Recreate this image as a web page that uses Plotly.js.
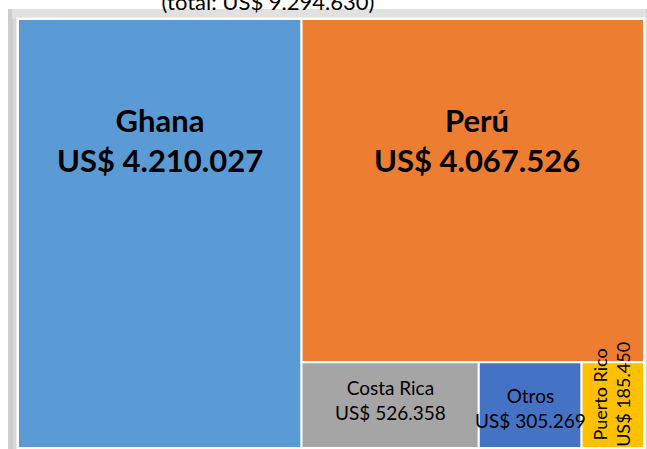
<!DOCTYPE html>
<html>
<head>
<meta charset="utf-8">
<script src="https://cdn.plot.ly/plotly-3.0.1.min.js"></script>
<style>
  html, body { margin: 0; padding: 0; background: #fff; }
  #chart { width: 647px; height: 449px; }
</style>
</head>
<body>
<div id="chart"></div>
<script>
// ---- data ----
const countries = ['Ghana', 'Perú', 'Costa Rica', 'Otros', 'Puerto Rico'];
const amounts = [4210027, 4067526, 526358, 305269, 185450];
const tileColors = ['#5B9BD5', '#ED7D31', '#A5A5A5', '#4472C4', '#FFC000'];

const total = amounts.reduce((a, b) => a + b, 0);
function fmt(v) { return String(v).replace(/\B(?=(\d{3})+(?!\d))/g, '.'); }

// ---- geometry of the treemap domain (px) ----
const W = 647, H = 449;
const margin = { l: 18, r: 3, t: 19, b: 1 };
const DW = W - margin.l - margin.r, DH = H - margin.t - margin.b;

// squarify (same algorithm as the library's tiling, ratio 1) to place labels
function squarify(values, x0, y0, x1, y1) {
  const rects = [];
  let value = values.reduce((a, b) => a + b, 0);
  let i0 = 0, i1 = 0;
  const n = values.length;
  while (i0 < n) {
    const dx = x1 - x0, dy = y1 - y0;
    let sumValue = values[i1++];
    let minValue = sumValue, maxValue = sumValue;
    const alpha = Math.max(dy / dx, dx / dy) / value;
    let beta = sumValue * sumValue * alpha;
    let minRatio = Math.max(maxValue / beta, beta / minValue);
    for (; i1 < n; ++i1) {
      const nv = values[i1];
      sumValue += nv;
      if (nv < minValue) minValue = nv;
      if (nv > maxValue) maxValue = nv;
      beta = sumValue * sumValue * alpha;
      const newRatio = Math.max(maxValue / beta, beta / minValue);
      if (newRatio > minRatio) { sumValue -= nv; break; }
      minRatio = newRatio;
    }
    if (dx < dy) {
      const h = dy * sumValue / value;
      let x = x0;
      for (let k = i0; k < i1; k++) {
        const w = dx * values[k] / sumValue;
        rects[k] = { x0: x, x1: x + w, y0: y0, y1: y0 + h };
        x += w;
      }
      y0 += h;
    } else {
      const w = dx * sumValue / value;
      let y = y0;
      for (let k = i0; k < i1; k++) {
        const h = dy * values[k] / sumValue;
        rects[k] = { x0: x0, x1: x0 + w, y0: y, y1: y + h };
        y += h;
      }
      x0 += w;
    }
    value -= sumValue;
    i0 = i1;
  }
  return rects;
}
const rects = squarify(amounts, 0, 0, DW, DH);

// label styles (not data)
const labelStyle = [
  { size: 31, bold: true, anchorTop: true, yshift: -121, xshift: 0, angle: 0 },
  { size: 31, bold: true, anchorTop: true, yshift: -121, xshift: 4, angle: 0 },
  { size: 19, bold: false, anchorTop: false, yshift: 5, xshift: 0, angle: 0 },
  { size: 19, bold: false, anchorTop: false, yshift: -3, xshift: 0, angle: 0 },
  { size: 18, bold: false, anchorTop: false, yshift: 11, xshift: -2, angle: -90 }
];

const annotations = countries.map((c, i) => {
  const r = rects[i], s = labelStyle[i];
  const cx = (r.x0 + r.x1) / 2 / DW;
  const cy = s.anchorTop ? 1 - r.y0 / DH : 1 - (r.y0 + r.y1) / 2 / DH;
  let txt = c + '<br>US$ ' + fmt(amounts[i]);
  if (s.bold) txt = '<b>' + txt + '</b>';
  return {
    xref: 'paper', yref: 'paper', x: cx, y: cy,
    xanchor: 'center', yanchor: 'middle',
    xshift: s.xshift, yshift: s.yshift,
    text: txt, showarrow: false, textangle: s.angle,
    font: { family: 'Lato, "Open Sans", sans-serif', size: s.size, color: '#000' }
  };
});

const trace = {
  type: 'treemap',
  labels: countries,
  parents: countries.map(() => ''),
  values: amounts,
  sort: true,
  textinfo: 'none',
  hoverinfo: 'none',
  marker: {
    colors: tileColors,
    line: { color: '#ffffff', width: 2 },
    pad: { t: 0, l: 0, r: 0, b: 0 }
  },
  tiling: { packing: 'squarify', squarifyratio: 1, pad: 0 },
  pathbar: { visible: false },
  root: { color: 'rgba(0,0,0,0)' },
  domain: { x: [0, 1], y: [0, 1] }
};

function px2x(px) { return (px - margin.l) / DW; }
function px2y(py) { return (H - margin.b - py) / DH; }

const layout = {
  width: W, height: H,
  margin: margin,
  paper_bgcolor: '#ffffff',
  showlegend: false,
  title: {
    text: '(total: US$ ' + fmt(total) + ')',
    x: 268 / W, xref: 'container', xanchor: 'center',
    y: 1 - 2.5 / H, yref: 'container', yanchor: 'middle',
    font: { family: 'Lato, "Open Sans", sans-serif', size: 22, color: '#000' }
  },
  shapes: [
    { type: 'rect', xref: 'paper', yref: 'paper', layer: 'below',
      x0: px2x(8), x1: px2x(W), y0: px2y(H), y1: px2y(9),
      fillcolor: '#cdcdcd', line: { width: 0 } },
    { type: 'rect', xref: 'paper', yref: 'paper', layer: 'below',
      x0: px2x(13), x1: px2x(W), y0: px2y(H), y1: px2y(13),
      fillcolor: '#d8d8d8', line: { width: 0 } },
    { type: 'rect', xref: 'paper', yref: 'paper', layer: 'below',
      x0: px2x(12), x1: px2x(646), y0: px2y(19), y1: px2y(9),
      fillcolor: '#e1e1e1', line: { width: 0 } },
    { type: 'rect', xref: 'paper', yref: 'paper', layer: 'below',
      x0: px2x(16), x1: px2x(646), y0: px2y(449), y1: px2y(17),
      fillcolor: '#eeeeee', line: { width: 0 } }
  ],
  annotations: annotations
};

Plotly.newPlot('chart', [trace], layout, { displayModeBar: false, staticPlot: true });
</script>
</body>
</html>
